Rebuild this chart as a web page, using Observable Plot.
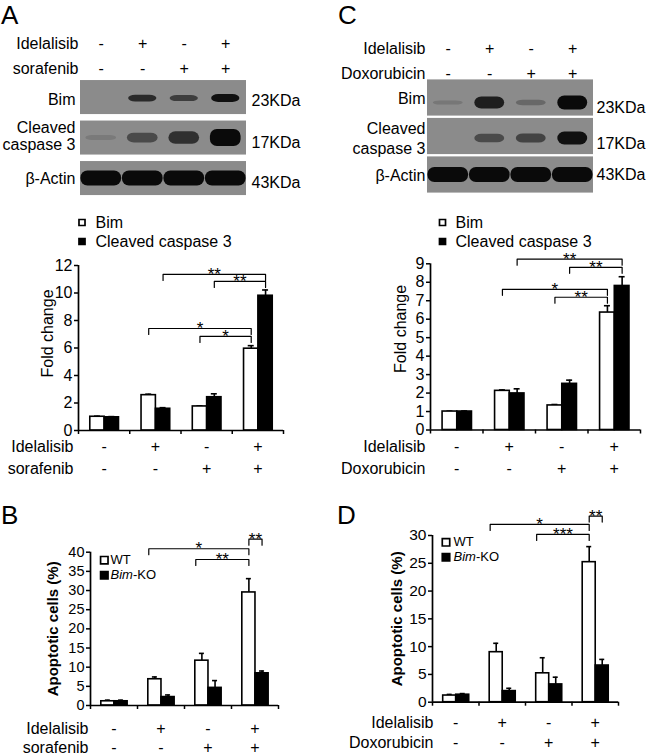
<!DOCTYPE html>
<html><head><meta charset="utf-8">
<script src="https://cdn.jsdelivr.net/npm/d3@7"></script>
<script src="https://cdn.jsdelivr.net/npm/@observablehq/plot@0.6"></script>
<style>
body{margin:0;background:#fff;}
#fig{position:relative;width:650px;height:755px;overflow:hidden;background:#fff;font-family:"Liberation Sans",Arial,Helvetica,sans-serif;color:#000;}
#fig .p{position:absolute;}
#fig .letter{position:absolute;font-size:26px;line-height:26px;}
</style></head><body><div id="fig"></div>
<script>
// ---------------- DATA ----------------
const groups = [0, 1, 2, 3];
const idelalisib = ["-", "+", "-", "+"];
const sorafenib = ["-", "-", "+", "+"];
const doxorubicin = ["-", "-", "+", "+"];

// western blots (relative band intensity per lane)
const blotRows = ["Bim", "Cleaved\ncaspase 3", "β-Actin"];
const blotKDa = ["23KDa", "17KDa", "43KDa"];
const blotA = [[0, 0.7, 0.55, 0.9], [0.08, 0.45, 0.65, 1.0], [1, 1, 1, 1]];
const blotC = [[0.1, 0.8, 0.22, 1.0], [0, 0.45, 0.5, 0.9], [1, 1, 1, 1]];

// fold change
const foldLabels = ["Bim", "Cleaved caspase 3"];
const aBim = [1.0, 2.57, 1.75, 5.95];
const aBimErr = [0.04, 0.07, 0.04, 0.22];
const aCasp = [0.96, 1.58, 2.42, 9.8];
const aCaspErr = [0.05, 0.08, 0.25, 0.42];
const cBim = [1.0, 2.12, 1.33, 6.36];
const cBimErr = [0.02, 0.05, 0.05, 0.37];
const cCasp = [1.0, 1.98, 2.5, 7.8];
const cCaspErr = [0.03, 0.25, 0.2, 0.5];

// apoptotic cells (%)
const apoLabels = ["WT", "Bim-KO"];
const bWT = [1.1, 6.85, 11.7, 29.5];
const bWTErr = [0.3, 0.6, 1.9, 3.6];
const bKO = [1.1, 2.2, 4.6, 8.4];
const bKOErr = [0.3, 0.55, 1.9, 0.6];
const dWT = [1.2, 9.0, 5.2, 25.2];
const dWTErr = [0.2, 1.6, 2.8, 2.8];
const dKO = [1.35, 2.0, 3.2, 6.6];
const dKOErr = [0.2, 0.5, 1.3, 1.1];

// significance comparisons: [group, series] endpoints, bracket height (y units), label
const aSig = [
  {from: [1, 1], to: [3, 1], level: 11.35, label: "**"},
  {from: [2, 1], to: [3, 1], level: 10.84, label: "**"},
  {from: [1, 0], to: [3, 0], level: 7.42, label: "*"},
  {from: [2, 0], to: [3, 0], level: 6.84, label: "*"}
];
const cSig = [
  {from: [1, 1], to: [3, 1], level: 9.25, label: "**"},
  {from: [2, 1], to: [3, 1], level: 8.81, label: "**"},
  {from: [1, 0], to: [3, 0], level: 7.62, label: "*"},
  {from: [2, 0], to: [3, 0], level: 7.19, label: "**"}
];
const bSig = [
  {from: [1, 0, "edge"], to: [3, 0], level: 40.9, label: "*"},
  {from: [2, 0, "edge"], to: [3, 0], level: 38.1, label: "**"},
  {from: [3, 0], to: [3, 1], level: 43.4, label: "**"}
];
const dSig = [
  {from: [1, 0, "edge"], to: [3, 0], level: 32.0, label: "*"},
  {from: [2, 0, "edge"], to: [3, 0], level: 30.2, label: "***"},
  {from: [3, 0], to: [3, 1], level: 33.5, label: "**"}
];

// ---------------- LAYOUT / STYLE ----------------
const FONT = '"Liberation Sans", Arial, Helvetica, sans-serif';
const fig = document.getElementById("fig");
const X0 = 0.23, XM = 0.51, X1 = 0.79;  // bar layout inside a group
const CX = [(X0 + XM) / 2, (XM + X1) / 2];

function place(svg, left, top) {
  const div = document.createElement("div");
  div.className = "p";
  div.style.left = left + "px";
  div.style.top = top + "px";
  div.appendChild(svg);
  fig.appendChild(div);
}
function letter(t, left, top) {
  const d = document.createElement("div");
  d.className = "letter";
  d.textContent = t;
  d.style.left = left + "px";
  d.style.top = top + "px";
  fig.appendChild(d);
}

function blot(c) {
  const rows = [0, 1, 2];
  const bands = [];
  rows.forEach(r => groups.forEach(l => { const v = c.intens[r][l]; if (v > 0) bands.push({r, l, v}); }));
  const pitch = (c.height - c.mT - c.mB) / 3;
  const marks = [
    Plot.rect(rows, {x1: 0, x2: 4, y1: r => r + c.inset, y2: r => r + 1 - c.inset, fill: "#8b8b8b"}),
    Plot.rect(bands, {
      x1: d => d.l + 0.5 - c.halfW[d.r], x2: d => d.l + 0.5 + c.halfW[d.r],
      y1: d => d.r + 0.5 + c.yOff[d.r] / pitch - (c.thick[d.r][0] + c.thick[d.r][1] * d.v) / pitch,
      y2: d => d.r + 0.5 + c.yOff[d.r] / pitch + (c.thick[d.r][0] + c.thick[d.r][1] * d.v) / pitch,
      fill: "#0a0a0a", fillOpacity: d => Math.min(1, 0.05 + 1.0 * d.v), rx: 7, ariaLabel: "bands"
    })
  ];
  rows.forEach(r => {
    marks.push(Plot.text([c.names[r]], {x: 0, y: r + 0.5 + c.nameDy[r] / pitch, text: d => d, textAnchor: "end", dx: c.nameDx, lineAnchor: "middle", lineHeight: c.lineHeight, fontSize: 16}));
    marks.push(Plot.text([c.kda[r]], {x: 4, y: r + 0.5 + c.kdaDy[r] / pitch, text: d => d, textAnchor: "start", dx: c.kdaDx, lineAnchor: "middle", fontSize: 16}));
  });
  c.headers.forEach((h, k) => {
    marks.push(Plot.text(groups, {x: g => g + 0.5, frameAnchor: "top", dy: c.headerDy[k], text: g => h.values[g], textAnchor: "middle", lineAnchor: "middle", fontSize: 16}));
    marks.push(Plot.text([h.name], {frameAnchor: "top-left", dx: c.headerDx, dy: c.headerDy[k], text: d => d, textAnchor: "end", lineAnchor: "middle", fontSize: 16}));
  });
  const svg = Plot.plot({
    width: c.width, height: c.height,
    marginLeft: c.mL, marginRight: c.mR, marginTop: c.mT, marginBottom: c.mB,
    x: {domain: [0, 4], axis: null},
    y: {domain: [0, 3], reverse: true, axis: null},
    style: {fontFamily: FONT, fontSize: "16px", color: "black", background: "transparent", overflow: "visible"},
    marks
  });
  // soft band edges
  const ns = "http://www.w3.org/2000/svg";
  const defs = document.createElementNS(ns, "defs");
  const f = document.createElementNS(ns, "filter");
  f.setAttribute("id", c.id); f.setAttribute("x", "-20%"); f.setAttribute("y", "-60%");
  f.setAttribute("width", "140%"); f.setAttribute("height", "220%");
  const gb = document.createElementNS(ns, "feGaussianBlur");
  gb.setAttribute("stdDeviation", "1.6");
  f.appendChild(gb); defs.appendChild(f); svg.insertBefore(defs, svg.firstChild);
  const g = svg.querySelector('[aria-label="bands"]');
  if (g) g.setAttribute("filter", `url(#${c.id})`);
  place(svg, c.left, c.top);
}

function barChart(c) {
  const fw = c.width - c.mL - c.mR, fh = c.height - c.mT - c.mB;
  const pxX = fw / 4, pxY = fh / c.ymax;
  const capHalf = c.cap / pxX;
  const tickLen = 6 / pxY;
  const series = [
    {vals: c.v0, errs: c.e0, x1: X0, x2: XM, fill: "white", cx: CX[0]},
    {vals: c.v1, errs: c.e1, x1: XM, x2: X1, fill: "black", cx: CX[1]}
  ];
  const marks = [];
  series.forEach(s => {
    marks.push(Plot.ruleX(groups, {x: g => g + s.cx, y1: g => s.vals[g], y2: g => s.vals[g] + s.errs[g], strokeWidth: 1.6}));
    marks.push(Plot.ruleY(groups, {y: g => s.vals[g] + s.errs[g], x1: g => g + s.cx - capHalf, x2: g => g + s.cx + capHalf, strokeWidth: 1.6}));
    marks.push(Plot.rect(groups, {x1: g => g + s.x1, x2: g => g + s.x2, y1: 0, y2: g => s.vals[g], fill: s.fill, stroke: "black", strokeWidth: 1.6}));
  });
  marks.push(Plot.ruleY([0], {x1: 0, x2: 4, strokeWidth: 1.7}));
  marks.push(Plot.ruleX([0], {y1: 0, y2: c.ymax, strokeWidth: 1.7}));
  marks.push(Plot.axisX({ticks: [0, 1, 2, 3, 4], tickSize: 4, tickFormat: () => "", label: null, strokeWidth: 1.5}));
  marks.push(Plot.axisY({ticks: c.yticks, tickSize: 4, tickPadding: 2, label: null, fontSize: c.tickFont, strokeWidth: 1.5}));
  // significance brackets
  const bx = (e) => e[0] + (e[2] === "edge" ? X0 + 0.01 : CX[e[1]]);
  const pts = [];
  c.sig.forEach((b, i) => {
    const xa = bx(b.from), xb = bx(b.to);
    pts.push({i, x: xa, y: b.level - tickLen}, {i, x: xa, y: b.level}, {i, x: xb, y: b.level}, {i, x: xb, y: b.level - tickLen});
  });
  marks.push(Plot.line(pts, {x: "x", y: "y", z: "i", strokeWidth: 1.2}));
  marks.push(Plot.text(c.sig, {x: b => (bx(b.from) + bx(b.to)) / 2, y: "level", text: "label", fontSize: 17, textAnchor: "middle", lineAnchor: "middle", dy: 0}));
  // legend
  c.legend.forEach((lab, k) => {
    marks.push(Plot.dot([lab], {frameAnchor: "top-left", dx: c.lgDx, dy: c.lgDy[k], symbol: "square", r: c.lgR, fill: k ? "black" : "white", stroke: "black", strokeWidth: 1.7}));
    marks.push(Plot.text([lab], {frameAnchor: "top-left", dx: c.lgTx, dy: c.lgDy[k], text: d => d, textAnchor: "start", lineAnchor: "middle", fontSize: c.lgFont}));
  });
  // y label
  marks.push(Plot.text([c.ylabel], {frameAnchor: "left", dx: c.ylDx, dy: c.ylDy, rotate: -90, text: d => d, textAnchor: "middle", fontSize: c.ylSize, fontWeight: c.ylWeight, lineAnchor: "middle"}));
  // treatment rows
  c.rows.forEach((row, k) => {
    marks.push(Plot.text(groups, {x: g => g + 0.5, frameAnchor: "bottom", dy: c.rowDy[k], text: g => row.values[g], textAnchor: "middle", fontSize: 16, lineAnchor: "middle"}));
    marks.push(Plot.text([row.name], {frameAnchor: "bottom-left", dx: c.rowDx, dy: c.rowDy[k], text: d => d, textAnchor: "end", fontSize: 16, lineAnchor: "middle"}));
  });
  const svg = Plot.plot({
    width: c.width, height: c.height,
    marginLeft: c.mL, marginRight: c.mR, marginTop: c.mT, marginBottom: c.mB,
    x: {domain: [0, 4]},
    y: {domain: [0, c.ymax]},
    style: {fontFamily: FONT, fontSize: "16px", color: "black", background: "transparent", overflow: "visible"},
    marks
  });
  svg.querySelectorAll("text").forEach(t => {
    if (t.textContent === "Bim-KO") {
      t.textContent = "";
      const ns = "http://www.w3.org/2000/svg";
      const a = document.createElementNS(ns, "tspan"); a.setAttribute("font-style", "italic"); a.textContent = "Bim";
      const b = document.createElementNS(ns, "tspan"); b.textContent = "-KO";
      t.appendChild(a); t.appendChild(b);
    }
  });
  place(svg, c.left, c.top);
}

try {
  blot({id: "blurA", left: 0, top: 0, width: 325, height: 200, mL: 80, mR: 79, mT: 76.8, mB: 1.7, inset: 0.08,
    intens: blotA, names: blotRows, kda: blotKDa,
    thick: [[1.6, 2.6], [2, 6.5], [7.5, 0]], halfW: [0.34, 0.37, 0.49], yOff: [1, 0, 0],
    nameDx: -5, nameDy: [2, -2, 0], lineHeight: 1.08, kdaDx: 5, kdaDy: [3, 5, 4],
    headers: [{name: "Idelalisib", values: idelalisib}, {name: "sorafenib", values: sorafenib}], headerDy: [-33.8, -8.8], headerDx: -2});
  blot({id: "blurC", left: 325, top: 0, width: 325, height: 200, mL: 102, mR: 57, mT: 78.25, mB: 6.25, inset: 0.03,
    intens: blotC, names: blotRows, kda: blotKDa,
    thick: [[1.5, 5.5], [2, 5], [7.5, 0]], halfW: [0.36, 0.36, 0.49], yOff: [5, 2, 0],
    nameDx: -2, nameDy: [0, 1, 0], lineHeight: 1.25, kdaDx: 3, kdaDy: [9.5, 7, 0],
    headers: [{name: "Idelalisib", values: idelalisib}, {name: "Doxorubicin", values: doxorubicin}], headerDy: [-30.25, -5.25], headerDx: -2});

  barChart({left: 0, top: 200, width: 310, height: 285, mL: 78, mR: 27, mT: 65, mB: 55,
    ymax: 12, yticks: [0, 2, 4, 6, 8, 10, 12], tickFont: 16,
    v0: aBim, e0: aBimErr, v1: aCasp, e1: aCaspErr, cap: 3, sig: aSig,
    legend: foldLabels, lgDx: 3.5, lgDy: [-43, -24], lgTx: 17, lgR: 3.4, lgFont: 16,
    ylabel: "Fold change", ylDx: -31, ylDy: -14.5, ylSize: 16, ylWeight: "normal",
    rows: [{name: "Idelalisib", values: idelalisib}, {name: "sorafenib", values: sorafenib}], rowDy: [16, 38], rowDx: -5});
  barChart({left: 325, top: 200, width: 325, height: 285, mL: 105, mR: 10, mT: 63.3, mB: 55.5,
    ymax: 9, yticks: [0, 1, 2, 3, 4, 5, 6, 7, 8, 9], tickFont: 16,
    v0: cBim, e0: cBimErr, v1: cCasp, e1: cCaspErr, cap: 3, sig: cSig,
    legend: foldLabels, lgDx: 12, lgDy: [-41.3, -22.3], lgTx: 25, lgR: 3.4, lgFont: 16,
    ylabel: "Fold change", ylDx: -30, ylDy: -18, ylSize: 16, ylWeight: "normal",
    rows: [{name: "Idelalisib", values: idelalisib}, {name: "Doxorubicin", values: doxorubicin}], rowDy: [16.5, 38.5], rowDx: -5});
  barChart({left: 0, top: 500, width: 325, height: 255, mL: 90, mR: 47, mT: 51.7, mB: 50,
    ymax: 40, yticks: [0, 5, 10, 15, 20, 25, 30, 35, 40], tickFont: 14.5,
    v0: bWT, e0: bWTErr, v1: bKO, e1: bKOErr, cap: 2.5, sig: bSig,
    legend: apoLabels, lgDx: 13.8, lgDy: [8, 23], lgTx: 20, lgR: 4.2, lgFont: 13,
    ylabel: "Apoptotic cells (%)", ylDx: -37, ylDy: 0, ylSize: 15, ylWeight: "bold",
    rows: [{name: "Idelalisib", values: idelalisib}, {name: "sorafenib", values: sorafenib}], rowDy: [23, 42], rowDx: -2});
  barChart({left: 325, top: 500, width: 325, height: 255, mL: 107, mR: 32, mT: 35, mB: 53.3,
    ymax: 30, yticks: [0, 5, 10, 15, 20, 25, 30], tickFont: 15.5,
    v0: dWT, e0: dWTErr, v1: dKO, e1: dKOErr, cap: 2.5, sig: dSig,
    legend: apoLabels, lgDx: 13.5, lgDy: [6.8, 21.8], lgTx: 21, lgR: 4.2, lgFont: 13,
    ylabel: "Apoptotic cells (%)", ylDx: -35, ylDy: 0, ylSize: 15, ylWeight: "bold",
    rows: [{name: "Idelalisib", values: idelalisib}, {name: "Doxorubicin", values: doxorubicin}], rowDy: [20.3, 40.3], rowDx: 1});

  letter("A", 1, 2);
  letter("C", 338, 2);
  letter("B", 1, 502);
  letter("D", 337, 502);
} catch (e) {
  document.body.insertAdjacentHTML("beforeend", `<pre>${e.stack}</pre>`);
}
</script></body></html>
